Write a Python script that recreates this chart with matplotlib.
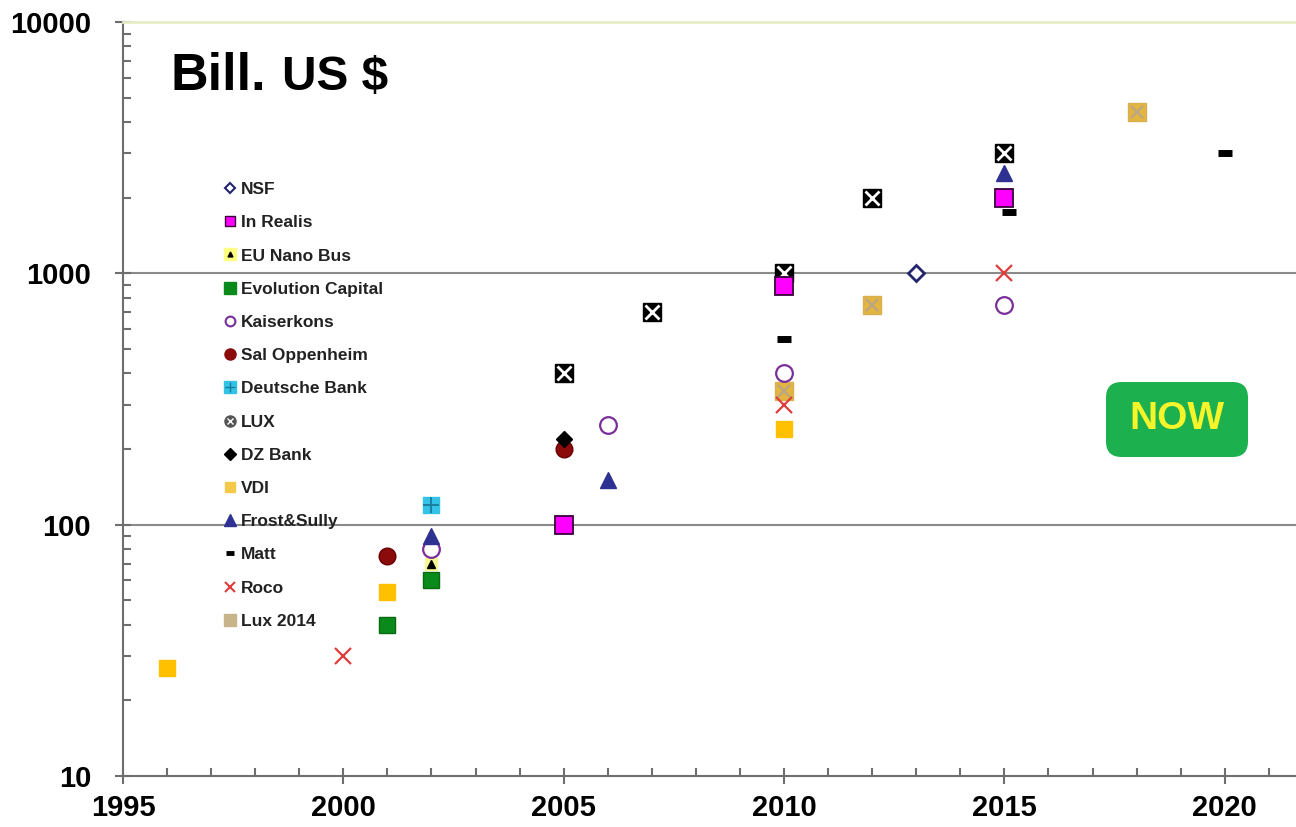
import numpy as np
import matplotlib
matplotlib.use("Agg")
import matplotlib.pyplot as plt
from matplotlib.lines import Line2D
from matplotlib.patches import FancyBboxPatch
from matplotlib.ticker import FixedLocator, NullFormatter, LogLocator

plt.rcParams['font.family'] = ['Liberation Sans', 'DejaVu Sans']
plt.rcParams['font.weight'] = 'bold'

# data (year, billion US $)
nsf_x = [2013]
nsf_y = [1000]
inrealis_x = [2005, 2010, 2015]
inrealis_y = [100, 890, 2000]
eunano_x = [2002]
eunano_y = [70]
evol_x = [2001, 2002]
evol_y = [40, 60]
kaiser_x = [2002, 2006, 2010, 2015]
kaiser_y = [80, 250, 400, 750]
sal_x = [2001, 2005]
sal_y = [75, 200]
deutsche_x = [2002]
deutsche_y = [120]
lux_x = [2005, 2007, 2010, 2012, 2015]
lux_y = [400, 700, 1000, 2000, 3000]
dz_x = [2005]
dz_y = [220]
vdi_x = [1996, 2001, 2010]
vdi_y = [27, 54, 240]
frost_x = [2002, 2006, 2015]
frost_y = [90, 150, 2500]
matt_x = [2010, 2015.1, 2020]
matt_y = [550, 1750, 3000]
roco_x = [2000, 2010, 2015]
roco_y = [30, 300, 1000]
lux14_x = [2010, 2012, 2018]
lux14_y = [340, 750, 4400]

W, H = 1296, 827
fig = plt.figure(figsize=(W / 100, H / 100), dpi=100)
ax = fig.add_axes([123 / W, 51 / H, (W - 123) / W, (776 - 22) / H])
ax.set_yscale('log')
ax.set_xlim(1995, 1995 + (W - 123) / 44.07)
ax.set_ylim(10, 10000)

# grid lines
for v in [100, 1000]:
    ax.axhline(v, color='#8a8a8a', lw=1.5, zorder=1)

ax.spines['right'].set_visible(False)
ax.spines['top'].set_color('#e4ecc4')
ax.spines['top'].set_linewidth(2)
for s in ['left', 'bottom']:
    ax.spines[s].set_color('#6e6e6e')
    ax.spines[s].set_linewidth(1.5)

ax.xaxis.set_major_locator(FixedLocator([1995, 2000, 2005, 2010, 2015, 2020]))
ax.xaxis.set_minor_locator(FixedLocator(list(range(1995, 2022))))
ax.yaxis.set_major_locator(FixedLocator([10, 100, 1000, 10000]))
ax.yaxis.set_minor_locator(LogLocator(base=10, subs=np.arange(2, 10)))
ax.yaxis.set_minor_formatter(NullFormatter())
ax.set_yticklabels(['10', '100', '1000', '10000'])
ax.tick_params(which='major', direction='inout', length=12, width=1.5,
               color='#6e6e6e', labelsize=21)
ax.tick_params(axis='y', which='major', pad=17)
ax.tick_params(axis='x', which='major', pad=7)
ax.tick_params(which='minor', direction='in', length=6, width=1.5, color='#6e6e6e')
for lab in ax.get_xticklabels() + ax.get_yticklabels():
    lab.set_fontweight('bold')

ms = dict(linestyle='none', zorder=3)

ax.plot(vdi_x, vdi_y, 's', color='#ffc000', ms=12, mec='#ffc000', **ms)
ax.plot(lux14_x, lux14_y, 's', color='#e2b441', ms=13, mec='#d9b050', **ms)
ax.plot(lux14_x, lux14_y, 'x', color='#b8a68a', ms=9, mew=1.5, **ms)
ax.plot(roco_x, roco_y, 'x', color='#e03c3c', ms=12, mew=1.6, **ms)
ax.plot(evol_x, evol_y, 's', color='#0a8a1a', ms=12, mec='#0a6a10', **ms)
ax.plot(eunano_x, eunano_y, 's', color='#f8f890', ms=9, **ms)
ax.plot(eunano_x, eunano_y, '^', color='black', ms=6, **ms)
ax.plot(sal_x, sal_y, 'o', color='#8b0a0a', ms=12, mec='#6a0000', **ms)
ax.plot(dz_x, dz_y, 'D', color='black', ms=8, **ms)
ax.plot(kaiser_x, kaiser_y, 'o', mfc='white', mec='#7a2e9a', ms=12, mew=1.6, **ms)
ax.plot(frost_x, frost_y, '^', color='#2e3192', ms=12, **ms)
ax.plot(deutsche_x, deutsche_y, 's', color='#33c3e6', ms=12, **ms)
ax.plot(deutsche_x, deutsche_y, '+', color='#1a7a99', ms=12, mew=1.3, **ms)
ax.plot(lux_x, lux_y, 's', color='black', ms=13, **ms)
ax.plot(lux_x, lux_y, 'x', color='white', ms=10, mew=2, **ms)
ax.plot(inrealis_x, inrealis_y, 's', mfc='#ff00ff', mec='#3a003a', ms=13, mew=1.3, **ms)
ax.plot(matt_x, matt_y, '_', color='black', ms=10, mew=5, **ms)
ax.plot(nsf_x, nsf_y, 'D', mfc='white', mec='#23236e', ms=8, mew=2, **ms)

# legend with small proxy markers
def h(marker, **kw):
    return Line2D([], [], linestyle='none', marker=marker, **kw)

handles = [
    h('D', mfc='white', mec='#23236e', ms=5, mew=1.5),
    h('s', mfc='#ff00ff', mec='#3a003a', ms=7),
    (h('s', color='#ffff80', ms=8), h('^', color='black', ms=3.5)),
    h('s', color='#0a8a1a', ms=8),
    h('o', mfc='white', mec='#7a2e9a', ms=7, mew=1.5),
    h('o', color='#8b0a0a', ms=8),
    (h('s', color='#33c3e6', ms=8), h('+', color='#1a7a99', ms=7)),
    (h('o', color='#555555', ms=8), h('x', color='white', ms=4.5, mew=1)),
    h('D', color='black', ms=6),
    h('s', color='#f4c94a', ms=7),
    h('^', color='#2e3192', ms=8),
    h('_', color='black', ms=6, mew=3.5),
    h('x', color='#e03c3c', ms=7, mew=1.5),
    h('s', color='#c8b48a', ms=8),
]
labels = ['NSF', 'In Realis', 'EU Nano Bus', 'Evolution Capital', 'Kaiserkons',
          'Sal Oppenheim', 'Deutsche Bank', 'LUX', 'DZ Bank', 'VDI',
          'Frost&Sully', 'Matt', 'Roco', 'Lux 2014']
leg = ax.legend(handles, labels, loc='upper left', frameon=False,
                bbox_to_anchor=(225 / W, 1 - 182 / H), bbox_transform=fig.transFigure,
                prop={'size': 12.5, 'weight': 'bold'}, handlelength=0.6,
                handletextpad=0.3, labelspacing=1.04, borderpad=0, borderaxespad=0)
for t in leg.get_texts():
    t.set_color('#222222')

# title
fig.text(170 / W, 1 - 76 / H, 'Bill.', fontsize=37.5, fontweight='bold', va='center', ha='left')
fig.text(282 / W, 1 - 78 / H, 'US $', fontsize=34.5, fontweight='bold', va='center', ha='left')

# NOW box
fig.patches.append(FancyBboxPatch((1106 / W, 1 - 457 / H), 142 / W, 75 / H,
                                  boxstyle='round,pad=0,rounding_size=0.012',
                                  transform=fig.transFigure, fc='#1db04e', ec='none',
                                  mutation_aspect=W / H, zorder=5))
fig.text(1177 / W, 1 - 419 / H, 'NOW', fontsize=28, fontweight='bold', color='#f5f52a',
         ha='center', va='center', zorder=6)

fig.savefig('out.png', dpi=100)
